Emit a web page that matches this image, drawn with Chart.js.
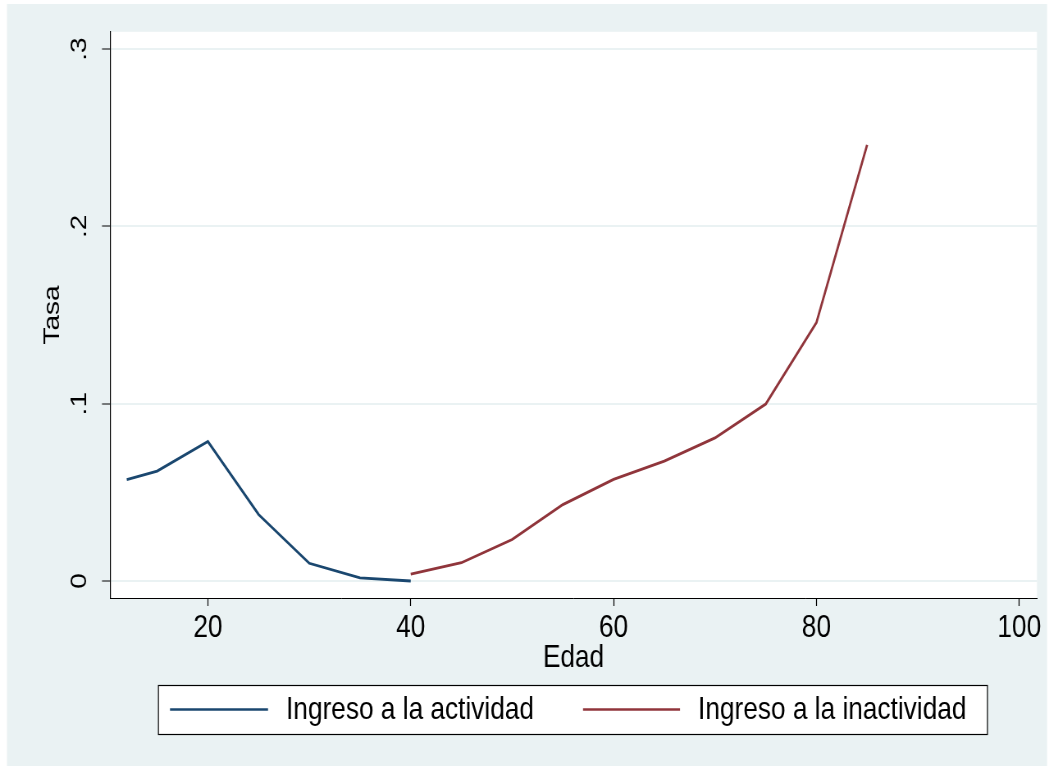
<!DOCTYPE html>
<html>
<head>
<meta charset="utf-8">
<script src="https://cdn.jsdelivr.net/npm/chart.js@4/dist/chart.umd.min.js"></script>
<style>
  html, body { margin: 0; padding: 0; background: #ffffff; }
  #wrap { width: 1049px; height: 767px; overflow: hidden; }
  /* the drawing surface is wider than the page and squeezed horizontally,
     which gives the narrow Helvetica-like lettering */
  #c { display: block; width: 1049px; height: 767px; }
</style>
</head>
<body>
<div id="wrap"><canvas id="c" width="1279" height="767" style="width:1049px;height:767px"></canvas></div>
<script>
// Ages and rates for each series
const agesActividad = [12, 15, 20, 25, 30, 35, 40];
const tasaActividad = [0.0572, 0.0620, 0.0787, 0.0375, 0.0100, 0.0017, 0.0];
const agesInactividad = [40, 45, 50, 55, 60, 65, 70, 75, 80, 85];
const tasaInactividad = [0.0038, 0.0103, 0.0234, 0.0431, 0.0573, 0.0676, 0.0807, 0.0998, 0.1457, 0.2460];

// Axis ticks and their printed labels
const xTicks = [20, 40, 60, 80, 100];
const yTicks = [0, 0.1, 0.2, 0.3];
const yTickLabels = ['0', '.1', '.2', '.3'];

const seriesNames = ['Ingreso a la actividad', 'Ingreso a la inactividad'];
const seriesColors = ['#1a476f', '#90353b'];

const FONT = '"Liberation Sans", Arial, Helvetica, sans-serif';
const BG = '#eaf2f3';

// horizontal squeeze between canvas pixels and page pixels
const K = 1049 / 1279;
const px = (v) => v / K;   // page x -> canvas x

const toPoints = (xs, ys) => xs.map((x, i) => ({ x: x, y: ys[i] }));

// Outer region and white plot area
const backgroundPlugin = {
  id: 'regions',
  beforeDraw(chart) {
    const ctx = chart.ctx;
    const a = chart.chartArea;
    ctx.save();
    ctx.fillStyle = '#ffffff';
    ctx.fillRect(0, 0, chart.width, chart.height);
    ctx.fillStyle = BG;
    ctx.fillRect(px(7), 4, px(1040), 762);
    ctx.fillStyle = '#ffffff';
    ctx.fillRect(a.left, a.top, a.right - a.left, a.bottom - a.top);
    ctx.restore();
  }
};

// Boxed legend beneath the x axis title
const boxLegendPlugin = {
  id: 'boxLegend',
  afterDraw(chart) {
    const ctx = chart.ctx;
    const box = { x: px(158), y: 685, w: px(829), h: 49 };
    ctx.save();
    ctx.fillStyle = '#ffffff';
    ctx.fillRect(box.x, box.y, box.w, box.h);
    ctx.strokeStyle = '#000000';
    ctx.lineWidth = 1.2;
    ctx.strokeRect(box.x + 0.5, box.y + 0.5, box.w, box.h);
    const cy = box.y + box.h / 2;
    const items = [
      { x0: px(170), x1: px(268), tx: px(286) },
      { x0: px(583), x1: px(680), tx: px(698) }
    ];
    ctx.font = '32px ' + FONT;
    ctx.textBaseline = 'middle';
    ctx.textAlign = 'left';
    chart.data.datasets.forEach((ds, i) => {
      const it = items[i];
      ctx.strokeStyle = ds.borderColor;
      ctx.lineWidth = 2.5;
      ctx.beginPath();
      ctx.moveTo(it.x0, cy);
      ctx.lineTo(it.x1, cy);
      ctx.stroke();
      ctx.fillStyle = '#000000';
      ctx.fillText(ds.label, it.tx, cy + 1);
    });
    ctx.restore();
  }
};

new Chart(document.getElementById('c'), {
  type: 'line',
  data: {
    datasets: [
      {
        label: seriesNames[0],
        data: toPoints(agesActividad, tasaActividad),
        borderColor: seriesColors[0],
        backgroundColor: seriesColors[0],
        borderWidth: 2.8,
        pointRadius: 0,
        tension: 0,
        fill: false
      },
      {
        label: seriesNames[1],
        data: toPoints(agesInactividad, tasaInactividad),
        borderColor: seriesColors[1],
        backgroundColor: seriesColors[1],
        borderWidth: 2.8,
        pointRadius: 0,
        tension: 0,
        fill: false
      }
    ]
  },
  options: {
    responsive: false,
    animation: false,
    devicePixelRatio: 1,
    layout: { padding: { left: 0, top: 30, right: 1279 - px(1037), bottom: 89 } },
    plugins: {
      legend: { display: false },
      tooltip: { enabled: false }
    },
    scales: {
      x: {
        type: 'linear',
        min: 10.35,
        max: 101.75,
        afterFit(scale) { scale.height = 80; },
        afterBuildTicks(scale) { scale.ticks = xTicks.map(v => ({ value: v })); },
        border: { display: true, color: '#000000', width: 1 },
        grid: {
          drawOnChartArea: false,
          drawTicks: true,
          tickLength: 8,
          tickColor: '#000000',
          tickWidth: 1.2
        },
        ticks: {
          padding: 3,
          color: '#000000',
          font: { family: FONT, size: 32 },
          maxRotation: 0,
          minRotation: 0,
          callback: (v) => String(v)
        },
        title: {
          display: true,
          text: 'Edad',
          color: '#000000',
          font: { family: FONT, size: 32 },
          padding: { top: 0, bottom: 1 }
        }
      },
      y: {
        type: 'linear',
        min: -0.0096,
        max: 0.3098,
        afterFit(scale) { scale.width = px(110); },
        afterBuildTicks(scale) { scale.ticks = yTicks.map(v => ({ value: v })); },
        border: { display: true, color: '#000000', width: 1.2 },
        grid: {
          drawOnChartArea: true,
          color: BG,
          lineWidth: 2,
          drawTicks: true,
          tickLength: px(8),
          tickColor: '#000000',
          tickWidth: 1
        },
        ticks: {
          padding: 15,
          color: '#000000',
          crossAlign: 'center',
          minRotation: 90,
          maxRotation: 90,
          font: { family: FONT, size: 28 },
          callback: (v) => {
            const i = yTicks.findIndex(t => Math.abs(t - v) < 1e-9);
            return i >= 0 ? yTickLabels[i] : '';
          }
        },
        title: {
          display: true,
          text: 'Tasa',
          color: '#000000',
          font: { family: FONT, size: 28 },
          padding: { top: 47, bottom: 0 }
        }
      }
    }
  },
  plugins: [backgroundPlugin, boxLegendPlugin]
});
</script>
</body>
</html>
